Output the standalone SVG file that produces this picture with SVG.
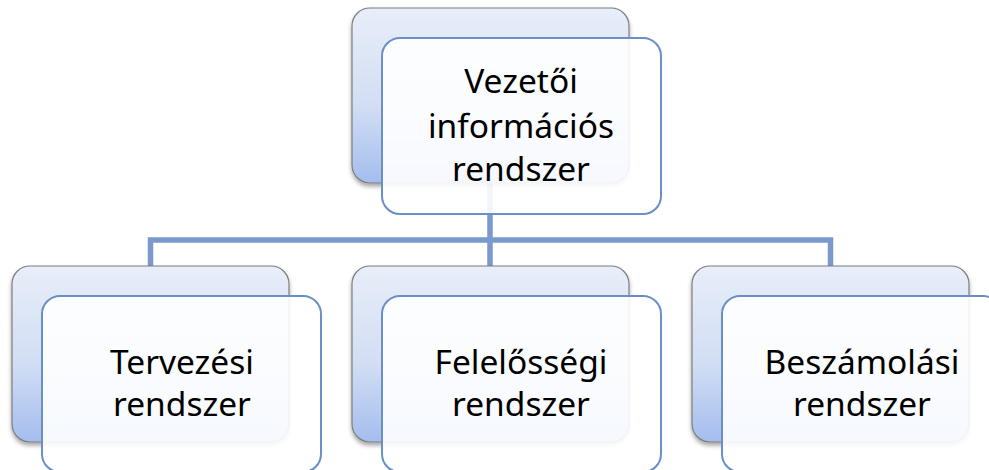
<svg xmlns="http://www.w3.org/2000/svg" width="989" height="470" viewBox="0 0 989 470">
  <defs>
    <linearGradient id="backFill" x1="0" y1="0" x2="0" y2="1">
      <stop offset="0" stop-color="#e8eef9"/>
      <stop offset="0.55" stop-color="#d2def4"/>
      <stop offset="1" stop-color="#a4bdee"/>
    </linearGradient>
    <filter id="shadow" x="-10%" y="-10%" width="120%" height="125%">
      <feDropShadow dx="0" dy="3" stdDeviation="2.2" flood-color="#000" flood-opacity="0.35"/>
    </filter>
  </defs>
  <style>
    .back { fill: url(#backFill); stroke: #7d7d7d; stroke-width: 1.2; filter: url(#shadow); }
    .front { fill: #ffffff; fill-opacity: 0.9; stroke: #6a8ec8; stroke-width: 2; }
    .conn { fill: none; stroke: #7b99cc; stroke-width: 5.5; stroke-linejoin: miter; }
    .label { font-family: "Noto Sans", "Liberation Sans", sans-serif; font-size: 33.5px; fill: #000; text-anchor: middle; }
  </style>
  <rect width="989" height="470" fill="#ffffff"/>

  <!-- connectors between the root and its three children -->
  <g id="connectors">
    <path class="conn" d="M490 183 V266"/>
    <path class="conn" d="M150.5 266 V240 H830.5 V266"/>
  </g>

  <!-- root node -->
  <g id="node-vezetoi">
    <rect class="back" x="352" y="8" width="277" height="175" rx="18"/>
    <rect class="front" x="382" y="38" width="279" height="176" rx="18"/>
    <text class="label" x="521" y="93">Vezetői</text>
    <text class="label" x="521" y="138">információs</text>
    <text class="label" x="521" y="181">rendszer</text>
  </g>

  <!-- child nodes -->
  <g id="node-tervezesi">
    <rect class="back" x="12" y="266" width="277" height="176" rx="18"/>
    <rect class="front" x="42" y="296" width="279" height="176" rx="18"/>
    <text class="label" x="182" y="374">Tervezési</text>
    <text class="label" x="182" y="416">rendszer</text>
  </g>

  <g id="node-felelossegi">
    <rect class="back" x="352" y="266" width="277" height="176" rx="18"/>
    <rect class="front" x="382" y="296" width="279" height="176" rx="18"/>
    <text class="label" x="521" y="374">Felelősségi</text>
    <text class="label" x="521" y="416">rendszer</text>
  </g>

  <g id="node-beszamolasi">
    <rect class="back" x="692" y="266" width="277" height="176" rx="18"/>
    <rect class="front" x="722" y="296" width="279" height="176" rx="18"/>
    <text class="label" x="862" y="374">Beszámolási</text>
    <text class="label" x="862" y="416">rendszer</text>
  </g>
</svg>
